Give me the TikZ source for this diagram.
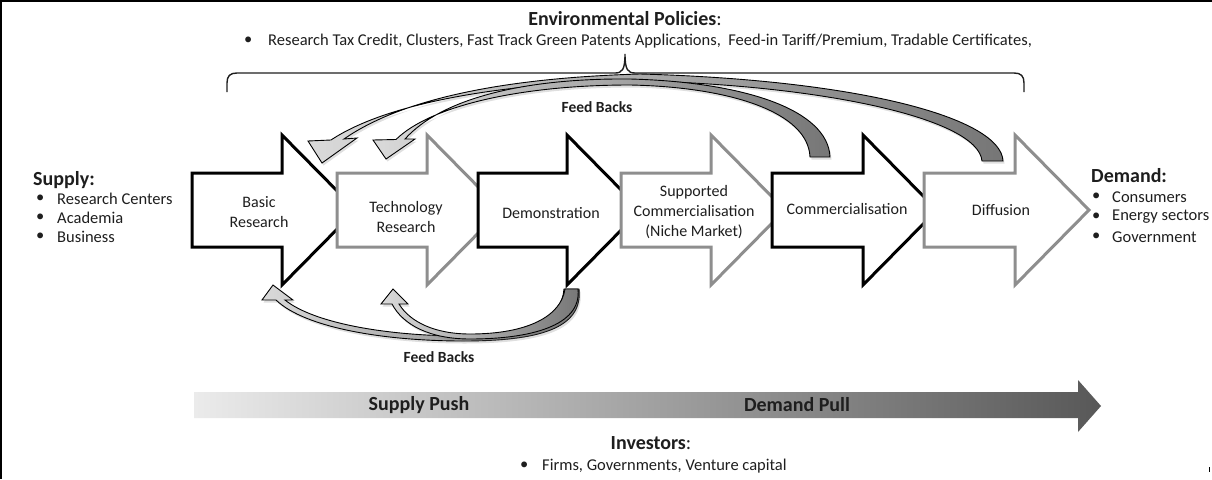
\documentclass[tikz,border=0pt]{standalone}
\usepackage{fontspec}
\setmainfont{Carlito}
\usetikzlibrary{shadows}
\definecolor{ink}{HTML}{1E1E1E}
\definecolor{rim}{HTML}{8E8E8E}
\definecolor{bandlight}{HTML}{DADADA}
\definecolor{banddark}{HTML}{767676}
\definecolor{pushlight}{HTML}{EBEBEB}
\definecolor{pushdark}{HTML}{585858}
\begin{document}
\begin{tikzpicture}[x=1pt,y=-1pt,
  txt/.style={font=\fontsize{16}{20}\selectfont, text=ink, inner sep=0pt, align=center},
  item/.style={font=\fontsize{16.5}{20}\selectfont, text=ink, inner sep=0pt, anchor=west},
  heading/.style={font=\fontsize{20}{24}\selectfont\bfseries, text=ink, inner sep=0pt},
  fb/.style={font=\fontsize{15.5}{18}\selectfont\bfseries, text=ink, inner sep=0pt},
  stage/.style={fill=white, line width=3pt, miter limit=10},
  band/.style={draw=black, line width=0.9pt, left color=bandlight, right color=banddark,
    drop shadow={shadow xshift=1.5pt, shadow yshift=-2.5pt, opacity=0.25}}]
\useasboundingbox (0,0) rectangle (1212,479);

% frame lines
\draw[line width=2pt] (0,1) -- (1212,1);
\draw[line width=2pt] (1,0) -- (1,479);
\draw[line width=1.5pt] (1209.5,467) -- (1209.5,472);

% policy brace
\draw[line width=1.4pt, ink] (227,92) -- (227,83) .. controls (227,76) and (230,73) .. (237,73)
  -- (615,73) .. controls (622,73) and (625,70) .. (625,54)
  .. controls (625,70) and (628,73) .. (635,73) -- (1014,73)
  .. controls (1021,73) and (1024,76) .. (1024,83) -- (1024,92);

% innovation stages as block arrows
\foreach \l/\h/\c in {192/282/black, 337/427/rim, 478/567/black, 621/711/rim, 772/863/black, 924/1015/rim}
  \draw[stage, draw=\c] (\l,173) -- (\h,173) -- (\h,135) -- ({\h+74},210) -- (\h,285) -- (\h,247) -- (\l,247) -- cycle;

\node[txt] (basic) at (259,212) {Basic\\Research};
\node[txt] (tech) at (406,217) {Technology\\Research};
\node[txt] (demo) at (551,213) {Demonstration};
\node[txt] (supp) at (694,212) {Supported\\Commercialisation\\(Niche Market)};
\node[txt] (comm) at (847,209) {Commercialisation};
\node[txt] (diff) at (1001,210) {Diffusion};

% upper feedback: diffusion -> basic research
\path[band] (1003,161) .. controls (1001,118) and (860,80) .. (640,74)
  .. controls (500,78) and (400,100) .. (344,139) -- (357,138) -- (322,163) -- (308,141) -- (331,140)
  .. controls (385,104) and (500,82) .. (640,81)
  .. controls (820,85) and (978,118) .. (982,161) -- cycle;
% upper feedback: commercialisation -> technology research
\path[band] (830,157) .. controls (828,110) and (745,82) .. (630,79)
  .. controls (520,78) and (440,100) .. (405,139) -- (415,139) -- (386,159) -- (373,140) -- (396,139.5)
  .. controls (430,106) and (520,85) .. (630,85)
  .. controls (730,87) and (808,112) .. (810,157) -- cycle;

% lower feedback: demonstration -> basic research
\path[band] (579,289) .. controls (583,328) and (540,341) .. (463,341)
  .. controls (385,341) and (305,328) .. (276,300) -- (262,300) -- (273,285) -- (293,300) -- (285,300)
  .. controls (315,324) and (390,336) .. (463,336)
  .. controls (530,336) and (562,318) .. (564,289) -- cycle;
% lower feedback: demonstration -> technology research
\path[band] (578,289) .. controls (582,326) and (530,339) .. (470,339)
  .. controls (430,339) and (403,325) .. (392,304) -- (381,304) -- (393,289) -- (408,304) -- (399,304)
  .. controls (410,322) and (435,334) .. (470,334)
  .. controls (528,334) and (561,316) .. (565,289) -- cycle;

\node[fb] (fbtop) at (597,107) {Feed Backs};
\node[fb] (fbbot) at (439,357) {Feed Backs};

% policies
\node[heading] (env) at (625,19) {Environmental Policies\mdseries:};
\node[item] (envb) at (244,41) {•};
\node[item] (envl) at (268,41)
  {Research Tax Credit, Clusters, Fast Track Green Patents Applications,\ \ Feed-in Tariff/Premium, Tradable Certificates,};

% supply side
\node[heading, anchor=west] (sup) at (33,180) {Supply:};
\foreach \t/\y/\n in {Research Centers/199/a, Academia/218/b, Business/237/c} {
  \node[item] (supb\n) at (36,\y) {•};
  \node[item] (sup\n) at (57,\y) {\t};
}

% demand side
\node[heading, anchor=west] (dem) at (1091,176) {Demand:};
\foreach \t/\y/\n in {Consumers/197/a, Energy sectors/217/b, Government/237/c} {
  \node[item] (demb\n) at (1092,\y) {•};
  \node[item] (dem\n) at (1112,\y) {\t};
}

% push / pull bar
\shade[left color=pushlight, right color=pushdark] (194,392) -- (1078,392) -- (1078,380)
  -- (1101,406) -- (1078,432) -- (1078,418) -- (194,418) -- cycle;
\node[heading] (push) at (419,405) {Supply Push};
\node[heading] (pull) at (797,405) {Demand Pull};

% investors
\node[heading] (inv) at (651,443) {Investors\mdseries:};
\node[item] (invb) at (520,466) {•};
\node[item] (invl) at (542,466) {Firms, Governments, Venture capital};
\end{tikzpicture}
\end{document}
